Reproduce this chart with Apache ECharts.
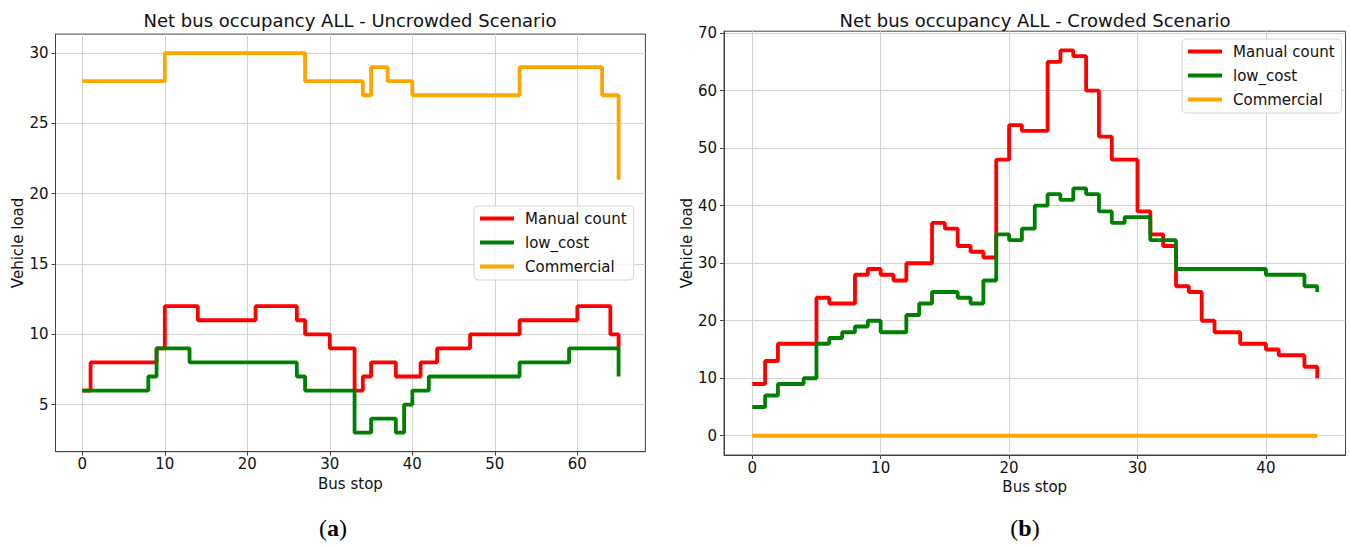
<!DOCTYPE html>
<html>
<head>
<meta charset="utf-8">
<script src="https://cdn.jsdelivr.net/npm/echarts@6/dist/echarts.min.js"></script>
<style>
html,body{margin:0;padding:0;background:#fff;}
#chart{width:1350px;height:547px;}
</style>
</head>
<body>
<div id="chart"></div>
<script>
// ---- data ----
const seriesNames = ['Manual count', 'low_cost', 'Commercial'];
const seriesColors = ['#ff0000', '#008000', '#ffa500'];

// (a) Uncrowded scenario, bus stops 0..65
const manualA = [6,8,8,8,8,8,8,8,8,9,12,12,12,12,11,11,11,11,11,11,11,12,12,12,12,12,11,10,10,10,9,9,9,6,7,8,8,8,7,7,7,8,8,9,9,9,9,10,10,10,10,10,10,11,11,11,11,11,11,11,12,12,12,12,10,9];
const lowCostA = [6,6,6,6,6,6,6,6,7,9,9,9,9,8,8,8,8,8,8,8,8,8,8,8,8,8,7,6,6,6,6,6,6,3,3,4,4,4,3,5,6,6,7,7,7,7,7,7,7,7,7,7,7,8,8,8,8,8,8,9,9,9,9,9,9,7];
const commercialA = [28,28,28,28,28,28,28,28,28,28,30,30,30,30,30,30,30,30,30,30,30,30,30,30,30,30,30,28,28,28,28,28,28,28,27,29,29,28,28,28,27,27,27,27,27,27,27,27,27,27,27,27,27,29,29,29,29,29,29,29,29,29,29,27,27,21];

// (b) Crowded scenario, bus stops 0..44
const manualB = [9,13,16,16,16,24,23,23,28,29,28,27,30,30,37,36,33,32,31,48,54,53,53,65,67,66,60,52,48,48,39,35,33,26,25,20,18,18,16,16,15,14,14,12,10];
const lowCostB = [5,7,9,9,10,16,17,18,19,20,18,18,21,23,25,25,24,23,27,35,34,36,40,42,41,43,42,39,37,38,38,34,34,29,29,29,29,29,29,29,28,28,28,26,25];
const commercialB = [0,0,0,0,0,0,0,0,0,0,0,0,0,0,0,0,0,0,0,0,0,0,0,0,0,0,0,0,0,0,0,0,0,0,0,0,0,0,0,0,0,0,0,0,0];

// tick labels
const xTicksA = [0,10,20,30,40,50,60];
const yTicksA = [5,10,15,20,25,30];
const xTicksB = [0,10,20,30,40];
const yTicksB = [0,10,20,30,40,50,60,70];

const titleA = 'Net bus occupancy ALL - Uncrowded Scenario';
const titleB = 'Net bus occupancy ALL - Crowded Scenario';
const xName = 'Bus stop';
const yName = 'Vehicle load';

// ---- chart ----
const FONT = 'DejaVu Sans';
const pairs = arr => arr.map((v, i) => [i, v]);

function xAxis(gridIndex, min, max, ticks) {
  return {
    gridIndex, type: 'value', min, max,
    name: xName, nameLocation: 'middle', nameGap: 21,
    nameTextStyle: {fontFamily: FONT, fontSize: 15, color: '#111'},
    axisLine: {show: true, onZero: false, lineStyle: {color: '#444', width: 1}},
    axisTick: {show: true, inside: false, length: 4, customValues: ticks, lineStyle: {color: '#444'}},
    axisLabel: {customValues: ticks, margin: 5, fontFamily: FONT, fontSize: 15, color: '#111'},
    splitLine: {show: true, lineStyle: {color: '#d3d3d3', width: 1}}
  };
}
function yAxis(gridIndex, min, max, ticks) {
  return {
    gridIndex, type: 'value', min, max,
    name: yName, nameLocation: 'middle', nameGap: 30,
    nameTextStyle: {fontFamily: FONT, fontSize: 15, color: '#111'},
    axisLine: {show: true, onZero: false, lineStyle: {color: '#444', width: 1}},
    axisTick: {show: true, inside: false, length: 4, customValues: ticks, lineStyle: {color: '#444'}},
    axisLabel: {customValues: ticks, margin: 7, fontFamily: FONT, fontSize: 15, color: '#111'},
    splitLine: {show: true, lineStyle: {color: '#d3d3d3', width: 1}}
  };
}
function stepSeries(name, color, data, idx) {
  return {
    name, type: 'line', step: 'end', xAxisIndex: idx, yAxisIndex: idx,
    data: pairs(data), showSymbol: false, symbol: 'none',
    lineStyle: {color, width: 3.8}, itemStyle: {color},
    animation: false, silent: true
  };
}
function legend(left, top) {
  return {
    orient: 'vertical', left, top,
    data: seriesNames,
    icon: 'rect', itemWidth: 34, itemHeight: 4, itemGap: 9,
    padding: [5, 7, 6, 6],
    borderColor: '#d6d6d6', borderWidth: 1, borderRadius: 4,
    backgroundColor: 'rgba(255,255,255,0.85)',
    textStyle: {fontFamily: FONT, fontSize: 15, color: '#111', lineHeight: 15, padding: [0, 0, 0, 6]},
    selectedMode: false
  };
}

const chart = echarts.init(document.getElementById('chart'), null, {renderer: 'svg'});
chart.setOption({
  backgroundColor: '#fff',
  animation: false,
  title: [
    {text: titleA, left: 350, top: 11, textAlign: 'center', padding: 0,
     textStyle: {fontFamily: FONT, fontSize: 18, fontWeight: 'normal', color: '#111'}},
    {text: titleB, left: 1035, top: 11, textAlign: 'center', padding: 0,
     textStyle: {fontFamily: FONT, fontSize: 18, fontWeight: 'normal', color: '#111'}},
    {text: '({b|a})', left: 333, top: 516, textAlign: 'center', padding: 0,
     textStyle: {fontFamily: 'Liberation Serif', fontSize: 24, fontWeight: 'normal', color: '#000',
       rich: {b: {fontFamily: 'Liberation Serif', fontSize: 24, fontWeight: 'bold', color: '#000'}}}},
    {text: '({b|b})', left: 1025, top: 516, textAlign: 'center', padding: 0,
     textStyle: {fontFamily: 'Liberation Serif', fontSize: 24, fontWeight: 'normal', color: '#000',
       rich: {b: {fontFamily: 'Liberation Serif', fontSize: 24, fontWeight: 'bold', color: '#000'}}}}
  ],
  legend: [legend(474, 206), legend(1182, 39)],
  grid: [
    {left: 55.5, top: 34.1, width: 589.9, height: 417.6, show: true, borderColor: '#444', borderWidth: 1, backgroundColor: '#fff'},
    {left: 724, top: 31.2, width: 621.5, height: 423.8, show: true, borderColor: '#444', borderWidth: 1, backgroundColor: '#fff'}
  ],
  xAxis: [xAxis(0, -3.25, 68.25, xTicksA), xAxis(1, -2.2, 46.2, xTicksB)],
  yAxis: [yAxis(0, 1.65, 31.35, yTicksA), yAxis(1, -3.35, 70.35, yTicksB)],
  series: [
    stepSeries(seriesNames[0], seriesColors[0], manualA, 0),
    stepSeries(seriesNames[1], seriesColors[1], lowCostA, 0),
    stepSeries(seriesNames[2], seriesColors[2], commercialA, 0),
    stepSeries(seriesNames[0], seriesColors[0], manualB, 1),
    stepSeries(seriesNames[1], seriesColors[1], lowCostB, 1),
    stepSeries(seriesNames[2], seriesColors[2], commercialB, 1)
  ]
});
</script>
</body>
</html>
